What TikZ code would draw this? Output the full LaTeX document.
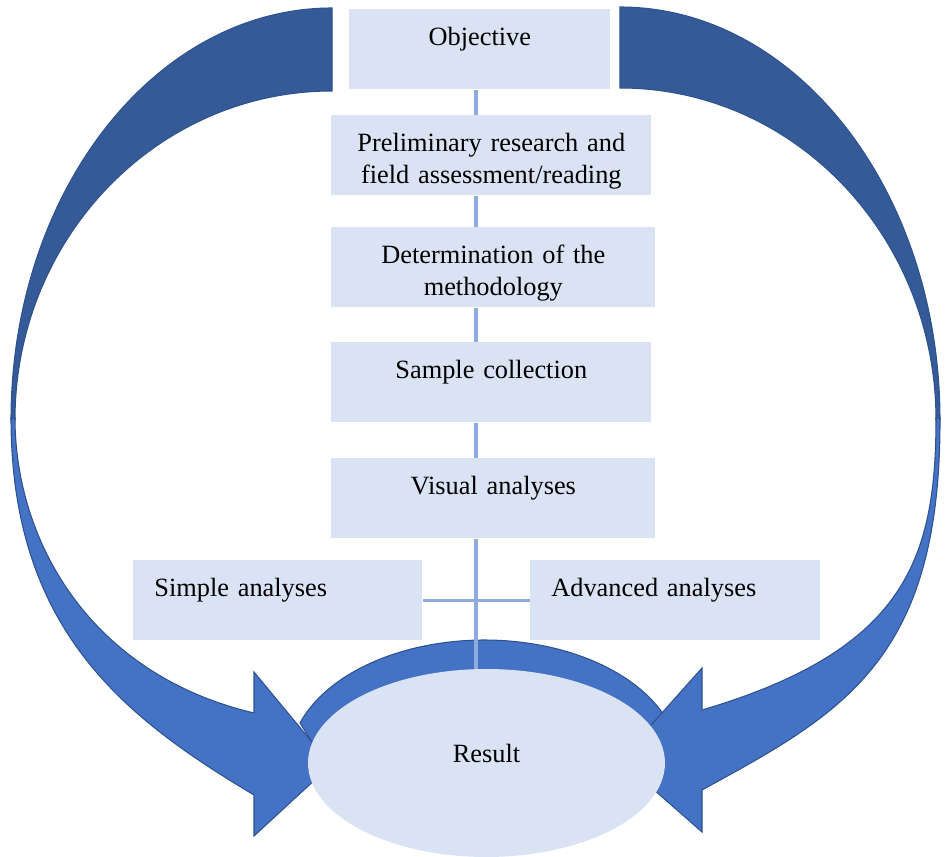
\documentclass[tikz,border=0pt]{standalone}
\usepackage{fontspec}
\setmainfont{Liberation Serif}
\usetikzlibrary{shapes.geometric}

\definecolor{boxfill}{RGB}{218,227,243}
\definecolor{darkband}{RGB}{52,90,151}
\definecolor{bandfill}{RGB}{68,114,196}
\definecolor{bandline}{RGB}{47,82,143}
\definecolor{linkblue}{RGB}{143,170,220}

\tikzset{
	stepbox/.style={fill=boxfill, anchor=north west, inner xsep=0.1cm, inner ysep=0pt, text height=0.72cm, text depth=0.88cm, align=center},
	sidebox/.style={stepbox, inner xsep=0.42cm, align=left},
	link/.style={draw=linkblue, line width=2pt},
	topband/.style={fill=darkband, draw=bandline, line width=0.6pt},
	bandarrow/.style={fill=bandfill, draw=bandline, line width=0.6pt, line join=miter},
}

\begin{document}
\begin{tikzpicture}[x=0.02cm, y=-0.02cm, font=\fontsize{15}{18.1}\selectfont]
		\useasboundingbox (0,0) rectangle (948,857);

		\coordinate (objective) at (349, 9);
		\coordinate (prelim)    at (331, 115);
		\coordinate (determ)    at (331, 227);
		\coordinate (sample)    at (331, 342);
		\coordinate (visual)    at (331, 458);
		\coordinate (simple)    at (133, 560);
		\coordinate (advanced)  at (530, 560);
		\coordinate (result)    at (486.5, 763);
		\coordinate (spine)     at (476, 0);

		% loop bands
		\draw[topband] (332,8) arc[start angle=270, end angle=180, x radius=321, y radius=412] -- (15,420) arc[start angle=180, end angle=270, x radius=317, y radius=329] -- cycle;
		\draw[topband] (620,7) arc[start angle=270, end angle=360, x radius=320, y radius=413] -- (936,420) arc[start angle=0, end angle=-90, x radius=316, y radius=332] -- cycle;
		\draw[bandarrow] (318,752) -- (300,723) arc[start angle=199, end angle=338, x radius=195, y radius=123] -- (650,750) -- cycle;
		\draw[bandarrow] (11,418) .. controls (11,630) and (125,718) .. (254,795) -- (254,836) -- (331,765) -- (254,672) -- (254,713) .. controls (89,674) and (15,540) .. (15,418) -- cycle;
		\draw[bandarrow] (940,418) .. controls (941,660) and (843,713) .. (702,790) -- (702,832) -- (620,760) -- (702,668) -- (702,710) .. controls (905,650) and (936,560) .. (936,418) -- cycle;

		\node[stepbox, text width=5.02cm] (OBJ) at (objective) {Objective};
		\node[stepbox, text width=6.2cm] (PRE) at (prelim) {Preliminary research and\\field assessment/reading};
		\node[stepbox, text width=6.28cm] (DET) at (determ) {Determination of the\\methodology};
		\node[stepbox, text width=6.2cm] (SAM) at (sample) {Sample collection};
		\node[stepbox, text width=6.28cm] (VIS) at (visual) {Visual analyses};
		\node[sidebox, text width=4.94cm] (SIM) at (simple) {Simple analyses};
		\node[sidebox, text width=4.96cm] (ADV) at (advanced) {Advanced analyses};
		\node[ellipse, fill=boxfill, minimum width=7.14cm, minimum height=3.76cm, inner sep=0pt, text height=0.3cm, text depth=0.3cm] (RES) at (result) {Result};

		\foreach \a/\b in {OBJ/PRE, PRE/DET, DET/SAM, SAM/VIS, VIS/RES}
			\draw[link] (\a.south -| spine) -- (\b.north -| spine);
		\draw[link] (SIM.east) -- (ADV.west);
	\end{tikzpicture}
\end{document}
